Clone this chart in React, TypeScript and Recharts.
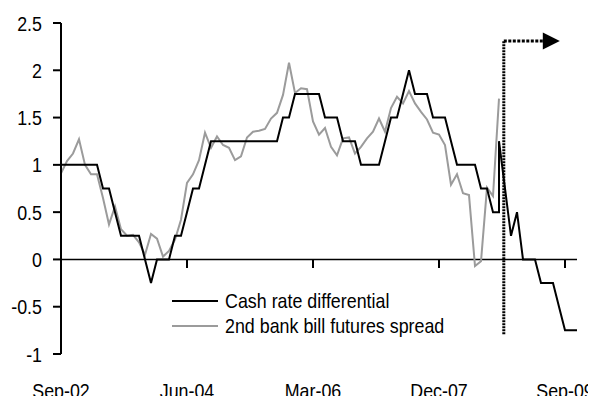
import React from 'react';
import {
    LineChart,
    Line,
    XAxis,
    YAxis,
    ReferenceLine,
    ReferenceDot,
    Legend
} from 'recharts';

// month index 0 = Sep-02, one step per month
const tickMonths = [0, 21, 42, 63, 84];
const tickLabels = ['Sep-02', 'Jun-04', 'Mar-06', 'Dec-07', 'Sep-09'];
const yTicks = [-1, -0.5, 0, 0.5, 1, 1.5, 2, 2.5];

const cashRate = [
    1, 1, 1, 1, 1, 1, 1, 0.75, 0.75, 0.5,
    0.25, 0.25, 0.25, 0.25, 0, -0.25, 0, 0, 0, 0.25,
    0.25, 0.5, 0.75, 0.75, 1, 1.25, 1.25, 1.25, 1.25, 1.25,
    1.25, 1.25, 1.25, 1.25, 1.25, 1.25, 1.25, 1.5, 1.5, 1.75,
    1.75, 1.75, 1.75, 1.75, 1.5, 1.5, 1.5, 1.25, 1.25, 1.25,
    1, 1, 1, 1, 1.25, 1.5, 1.5, 1.75, 2, 1.75,
    1.75, 1.75, 1.5, 1.5, 1.5, 1.25, 1, 1, 1, 1,
    0.75, 0.75, 0.5, 0.5, 0.75, 0.25, 0.5, 0, 0, 0,
    -0.25, -0.25, -0.25, -0.5, -0.75, -0.75, -0.75
];
// jump inside the month of Oct-08
const cashSpike = { month: 73, value: 1.25 };

const billSpread = [
    0.91, 1.04, 1.12, 1.27, 1.0, 0.9, 0.9, 0.65, 0.37, 0.56,
    0.32, 0.25, 0.26, 0.18, 0.05, 0.27, 0.22, 0.03, 0.09, 0.21,
    0.42, 0.81, 0.9, 1.05, 1.34, 1.18, 1.3, 1.21, 1.18, 1.05,
    1.09, 1.29, 1.35, 1.36, 1.38, 1.49, 1.55, 1.74, 2.08, 1.76,
    1.81, 1.8, 1.46, 1.32, 1.39, 1.19, 1.1, 1.28, 1.29, 1.12,
    1.19, 1.28, 1.35, 1.49, 1.35, 1.6, 1.72, 1.65, 1.78, 1.65,
    1.56, 1.48, 1.34, 1.32, 1.21, 0.79, 0.9, 0.7, 0.68, -0.07,
    -0.02, 0.76, 0.67, 1.7
];

// forecast marker
const markerMonth = 73.8;
const markerLow = -0.79;
const markerHigh = 2.31;
const arrowMonth = 80.3;

const cashData = cashRate.flatMap((v, i) =>
    i === cashSpike.month ? [{ m: i, v }, { m: i, v: cashSpike.value }] : [{ m: i, v }]
);
const billData = billSpread.map((v, i) => ({ m: i, v }));

const FONT = "'Liberation Sans', Arial, sans-serif";
const GREY = '#9b9b9b';
const SQUEEZE = 0.85; // the original uses a narrow face

const XTick = (props: any) => {
    const { x, y, payload } = props;
    return (
        <g transform={`translate(${x},${y})`}>
            <text transform={`scale(${SQUEEZE},1)`} textAnchor="middle" dy={12.5} fontSize={21} fill="#000" fontFamily={FONT}>
                {tickLabels[tickMonths.indexOf(payload.value)]}
            </text>
        </g>
    );
};

const YTick = (props: any) => {
    const { x, y, payload } = props;
    return (
        <g transform={`translate(${x},${y})`}>
            <text transform={`scale(${SQUEEZE},1)`} textAnchor="end" dy={7.5} fontSize={21} fill="#000" fontFamily={FONT}>
                {payload.value}
            </text>
        </g>
    );
};

const LegendBox = () => (
    <div style={{ fontFamily: FONT, fontSize: 21, color: '#000', lineHeight: '25px' }}>
        {[
            { name: 'Cash rate differential', color: '#000' },
            { name: '2nd bank bill futures spread', color: GREY }
        ].map(item => (
            <div key={item.name} style={{ display: 'flex', alignItems: 'center', whiteSpace: 'nowrap' }}>
                <span style={{ display: 'inline-block', width: 46, height: 2, background: item.color, marginRight: 7 }} />
                <span style={{ display: 'inline-block', transform: `scaleX(${SQUEEZE})`, transformOrigin: 'left center' }}>
                    {item.name}
                </span>
            </div>
        ))}
    </div>
);

const Arrow = (props: any) => {
    const { cx, cy } = props;
    return <polygon points={`${cx},${cy - 8.5} ${cx},${cy + 8.5} ${cx + 17},${cy}`} fill="#000" />;
};

export default function App() {
    return (
        <div style={{ margin: -8, width: 596, height: 404, background: '#fff', fontFamily: FONT }}>
            <LineChart width={596} height={404} data={billData} margin={{ top: 23, right: 19, bottom: 0, left: 0 }}>
                <XAxis
                    dataKey="m"
                    type="number"
                    domain={[0, 86]}
                    ticks={tickMonths}
                    axisLine={false}
                    tickLine={false}
                    tickSize={0}
                    tickMargin={31}
                    height={50}
                    interval={0}
                    tick={<XTick />}
                />
                <YAxis
                    domain={[-1, 2.5]}
                    ticks={yTicks}
                    width={61}
                    interval={0}
                    axisLine={{ stroke: '#000', strokeWidth: 2 }}
                    tickLine={{ stroke: '#000', strokeWidth: 2 }}
                    tickSize={8}
                    tickMargin={11}
                    tick={<YTick />}
                />
                <ReferenceLine y={0} stroke="#000" strokeWidth={1.5} />
                {tickMonths.slice(1).map(m => (
                    <ReferenceLine key={m} segment={[{ x: m, y: 0 }, { x: m, y: -0.09 }]} stroke="#000" strokeWidth={2} />
                ))}
                <Line
                    data={billData}
                    dataKey="v"
                    stroke={GREY}
                    strokeWidth={2}
                    dot={false}
                    isAnimationActive={false}
                />
                <Line
                    data={cashData}
                    dataKey="v"
                    stroke="#000"
                    strokeWidth={2}
                    dot={false}
                    isAnimationActive={false}
                />
                <ReferenceLine
                    segment={[{ x: markerMonth, y: markerLow }, { x: markerMonth, y: markerHigh }]}
                    stroke="#000"
                    strokeWidth={3}
                    strokeDasharray="2 1"
                />
                <ReferenceLine
                    segment={[{ x: markerMonth, y: markerHigh }, { x: arrowMonth, y: markerHigh }]}
                    stroke="#000"
                    strokeWidth={3}
                    strokeDasharray="3 1.5"
                />
                <ReferenceDot x={arrowMonth} y={markerHigh} shape={Arrow} />
                <Legend
                    layout="vertical"
                    align="center"
                    verticalAlign="middle"
                    content={() => <LegendBox />}
                    wrapperStyle={{ left: 172, top: 288, width: 'auto' }}
                />
            </LineChart>
        </div>
    );
}
